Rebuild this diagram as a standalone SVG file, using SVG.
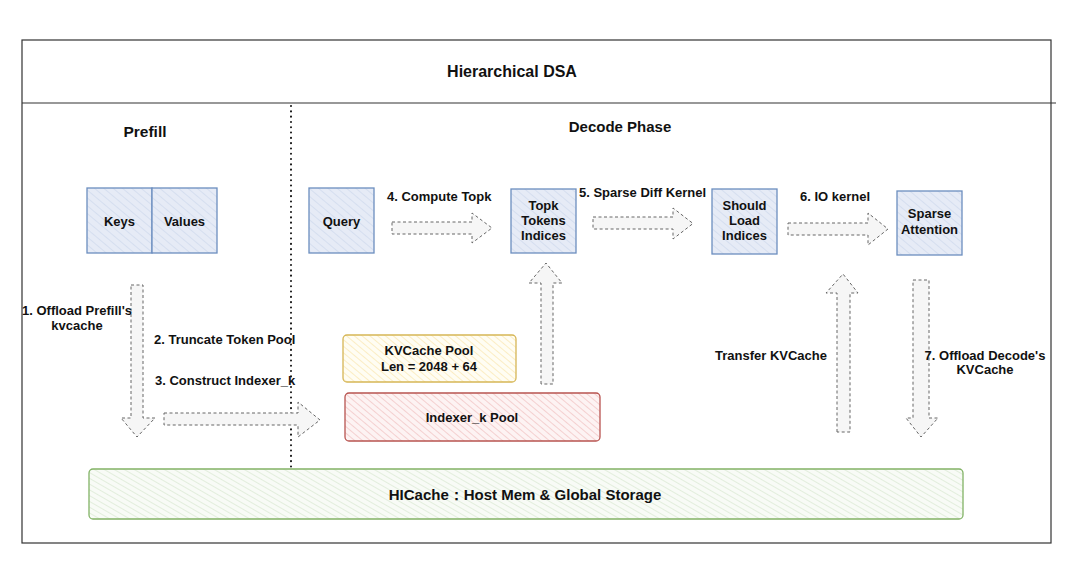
<svg xmlns="http://www.w3.org/2000/svg" width="1080" height="566" viewBox="0 0 1080 566">
<defs>
<pattern id="hb" width="6" height="6" patternUnits="userSpaceOnUse" patternTransform="rotate(-50)"><rect width="6" height="6" fill="#e6ebf6"/><line x1="0" y1="0" x2="0" y2="6" stroke="#d5deef" stroke-width="2"/></pattern>
<pattern id="hy" width="5" height="5" patternUnits="userSpaceOnUse" patternTransform="rotate(-50)"><rect width="5" height="5" fill="#fffdf3"/><line x1="0" y1="0" x2="0" y2="5" stroke="#fbe9b8" stroke-width="1.6"/></pattern>
<pattern id="hr" width="5" height="5" patternUnits="userSpaceOnUse" patternTransform="rotate(-50)"><rect width="5" height="5" fill="#fdf3f3"/><line x1="0" y1="0" x2="0" y2="5" stroke="#f1c2c2" stroke-width="1.4"/></pattern>
<pattern id="hg" width="5" height="5" patternUnits="userSpaceOnUse" patternTransform="rotate(-60)"><rect width="5" height="5" fill="#f8fbf6"/><line x1="0" y1="0" x2="0" y2="5" stroke="#d6e7cf" stroke-width="1.3"/></pattern>
</defs>
<style>
text{font-family:"Liberation Sans",Arial,Helvetica,sans-serif;font-weight:bold;fill:#111;}
.t12{font-size:12px;}
.t13{font-size:13px;}
.mid{text-anchor:middle;}
.box{fill:url(#hb);stroke:#6c8ebf;stroke-width:1.3;}
.arr{fill:#f6f6f6;stroke:#666;stroke-width:1;stroke-dasharray:3 2.5;}
.frame{fill:none;stroke:#333;stroke-width:1.2;}
</style>
<rect width="1080" height="566" fill="#ffffff"/>
<g id="frame">
<rect class="frame" x="22" y="40" width="1029" height="503"/>
<line x1="22" y1="103" x2="1056" y2="103" stroke="#333" stroke-width="1.2"/>
<line x1="291" y1="106" x2="291" y2="470" stroke="#111" stroke-width="2" stroke-dasharray="0.1 5.2" stroke-linecap="round"/>
<text x="512" y="77" class="mid" font-size="16">Hierarchical DSA</text>
<text x="145" y="137" class="mid" font-size="15.5">Prefill</text>
<text x="620" y="132" class="mid" font-size="15">Decode Phase</text>
</g>
<g id="keys"><rect class="box" x="87" y="188" width="65" height="65"/><text x="119.5" y="226" class="mid t13">Keys</text></g>
<g id="values"><rect class="box" x="152" y="188" width="65" height="65"/><text x="184.5" y="226" class="mid t13">Values</text></g>
<g id="query"><rect class="box" x="309" y="188" width="65" height="65"/><text x="341.5" y="226" class="mid t13">Query</text></g>
<g id="topk"><rect class="box" x="511" y="189" width="65" height="64"/><text x="543.5" y="210" class="mid t13">Topk</text><text x="543.5" y="225" class="mid t13">Tokens</text><text x="543.5" y="240" class="mid t13">Indices</text></g>
<g id="should"><rect class="box" x="712" y="189" width="65" height="65"/><text x="744.5" y="210" class="mid t13">Should</text><text x="744.5" y="225" class="mid t13">Load</text><text x="744.5" y="240" class="mid t13">Indices</text></g>
<g id="sparse"><rect class="box" x="897" y="191" width="65" height="64"/><text x="929.5" y="218" class="mid t13">Sparse</text><text x="929.5" y="234" class="mid t13">Attention</text></g>
<g id="kvpool"><rect x="343" y="335" width="173" height="47" rx="4" fill="url(#hy)" stroke="#d6b656" stroke-width="1.3"/><text x="429" y="355" class="mid t13">KVCache Pool</text><text x="429" y="371" class="mid t13">Len = 2048 + 64</text></g>
<g id="indexer"><rect x="345" y="393" width="255" height="48" rx="4" fill="url(#hr)" stroke="#b85450" stroke-width="1.3"/><text x="472" y="422" class="mid t13">Indexer_k Pool</text></g>
<g id="hicache"><rect x="89" y="469" width="874" height="50" rx="4" fill="url(#hg)" stroke="#82b366" stroke-width="1.3"/><text x="525" y="500" class="mid" font-size="15">HICache：Host Mem &amp; Global Storage</text></g>
<g id="connectors">
<path class="arr" d="M392 222 H472 V213 L492 228 L472 243 V234 H392 Z"/>
<path class="arr" d="M593 217 H673 V208 L693 223.5 L673 239 V229 H593 Z"/>
<path class="arr" d="M788 223 H868 V213 L888 229 L868 245 V235 H788 Z"/>
<path class="arr" d="M131 285 H143 V418 H155 L137 437 L121 418 H131 Z"/>
<path class="arr" d="M164 413 H298 V402 L320 420 L298 437 V425 H164 Z"/>
<path class="arr" d="M541 384 V283 H529 L546 263 L562 283 H553 V384 Z"/>
<path class="arr" d="M837 432 V293 H826 L843 274 L858 293 H850 V432 Z"/>
<path class="arr" d="M913 280 H929 V418 H938 L921 437 L906 418 H913 Z"/>
<text x="77" y="315" class="mid t13">1. Offload Prefill's</text>
<text x="77" y="330" class="mid t13">kvcache</text>
<text x="154" y="344" class="t13">2. Truncate Token Pool</text>
<text x="155" y="385" class="t13">3. Construct Indexer_k</text>
<text x="387" y="201" class="t13">4. Compute Topk</text>
<text x="579" y="197" class="t13">5. Sparse Diff Kernel</text>
<text x="800" y="201" class="t13">6. IO kernel</text>
<text x="715" y="360" class="t13">Transfer KVCache</text>
<text x="985" y="360" class="mid t13">7. Offload Decode's</text>
<text x="985" y="374" class="mid t13">KVCache</text>
</g>
</svg>
